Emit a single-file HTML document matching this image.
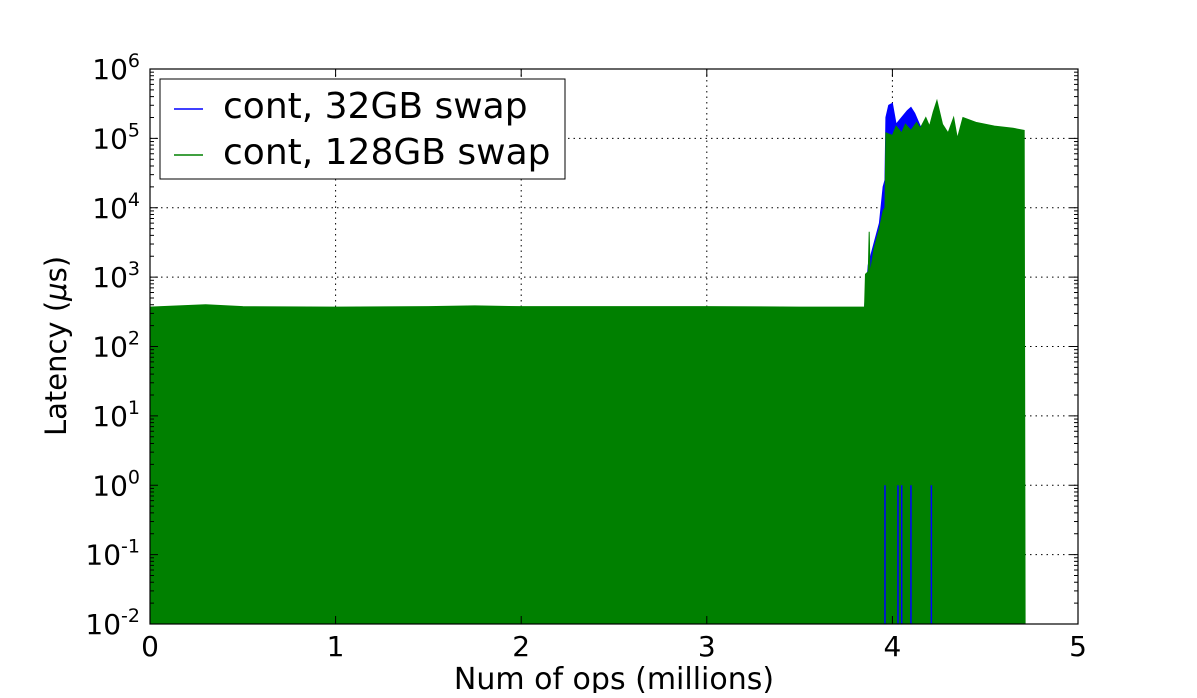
<!DOCTYPE html>
<html><head><meta charset="utf-8"><style>
body{margin:0;background:#fff;}
svg text{font-family:"DejaVu Sans","Liberation Sans",sans-serif;fill:#000;}
</style></head><body>
<svg width="1197" height="693" viewBox="0 0 1197 693">
<g id="grid"></g>
<g id="marks"></g>
<rect x="150" y="69" width="928" height="555" fill="none" stroke="#000" stroke-width="1.2"/>
<g id="axes"></g>
<text x="614" y="689" font-size="30" text-anchor="middle">Num of ops (millions)</text>
<text transform="translate(66,346) rotate(-90)" font-size="29" text-anchor="middle">Latency (<tspan font-style="italic">μ</tspan>s)</text>
<g>
<rect x="160" y="79" width="405" height="100" fill="#fff" stroke="#000" stroke-width="1"/>
<line x1="174" y1="109" x2="203" y2="109" stroke="#0000ff" stroke-width="1.5"/>
<text x="223" y="118" font-size="36">cont, 32GB swap</text>
<line x1="174" y1="155" x2="203" y2="155" stroke="#008000" stroke-width="1.5"/>
<text x="223" y="164" font-size="36">cont, 128GB swap</text>
</g>
</svg>
<script>
const xTicks=[0,1,2,3,4,5];
const yExps=[-2,-1,0,1,2,3,4,5,6];
const greenX=[0,0.3,0.5,1,1.5,1.75,2,2.5,3,3.5,3.85,3.855,3.87,3.875,3.88,3.9,3.92,3.93,3.95,3.96,3.965,4.0,4.02,4.05,4.07,4.1,4.13,4.15,4.18,4.2,4.22,4.24,4.27,4.3,4.33,4.35,4.38,4.45,4.55,4.65,4.71,4.715];
const greenY=[370,400,375,370,375,385,375,375,375,370,370,1100,1200,4500,1100,2500,4000,5000,9000,10000,120000,110000,150000,120000,160000,130000,170000,140000,200000,150000,240000,350000,160000,120000,200000,100000,200000,170000,150000,140000,130000,0.01];
const blueX=[3.85,3.87,3.9,3.93,3.95,3.96,3.965,3.98,4.0,4.02,4.05,4.08,4.1,4.12,4.15,4.2,4.715];
const blueY=[370,1500,3000,6000,20000,25000,200000,300000,320000,160000,200000,250000,280000,230000,150000,120000,0.01];
const blueDips=[3.96,4.03,4.05,4.1,4.21];
const X0=150,X1=1078,Y0=624,Y1=69;
const xs=v=>X0+(v-0)/(5-0)*(X1-X0);
const ys=v=>Y0-(Math.log10(v)+2)/8*(Y0-Y1);
const NS="http://www.w3.org/2000/svg";
function mk(t,a,p){const e=document.createElementNS(NS,t);for(const k in a)e.setAttribute(k,a[k]);p.appendChild(e);return e;}
const grid=document.getElementById('grid'),marks=document.getElementById('marks'),axes=document.getElementById('axes');
xTicks.forEach(t=>{const x=xs(t);
 if(t>0&&t<5){const l=mk('line',{x1:x,x2:x,y1:Y1,y2:Y0,stroke:'#000','stroke-dasharray':'1.5,4','stroke-width':1},grid);
 
 }
 const tx=mk('text',{x:x,y:656,'font-size':28,'text-anchor':'middle'},axes);tx.textContent=t;
 
 
 mk('line',{x1:x,x2:x,y1:Y0,y2:Y0-8,stroke:'#000'},axes);mk('line',{x1:x,x2:x,y1:Y1,y2:Y1+8,stroke:'#000'},axes);
});
yExps.forEach(e=>{const y=ys(Math.pow(10,e));
 if(e>-2&&e<6){const l=mk('line',{x1:X0,x2:X1,y1:y,y2:y,stroke:'#000','stroke-dasharray':'1.5,4','stroke-width':1},grid);
 
 }
 const tx=mk('text',{x:140,y:y+10,'font-size':28,'text-anchor':'end'},axes);
 
 
 tx.innerHTML='10<tspan dy="-12" font-size="19">'+e+'</tspan>';
 mk('line',{x1:X0,x2:X0+8,y1:y,y2:y,stroke:'#000'},axes);mk('line',{x1:X1,x2:X1-8,y1:y,y2:y,stroke:'#000'},axes);
 if(e<6)for(let m=2;m<10;m++){const ym=ys(m*Math.pow(10,e));mk('line',{x1:X0,x2:X0+4,y1:ym,y2:ym,stroke:'#000'},axes);mk('line',{x1:X1,x2:X1-4,y1:ym,y2:ym,stroke:'#000'},axes);}
});
function area(X,Y,col,name){let d='M'+xs(X[0])+','+Y0;X.forEach((x,i)=>{d+=' L'+xs(x)+','+ys(Y[i]);});d+=' L'+xs(X[X.length-1])+','+Y0+' Z';
 const p=mk('path',{d:d,fill:col,stroke:col,'stroke-width':1},marks);
 
 }
area(blueX,blueY,'#0000ff','series-32gb');
area(greenX,greenY,'#008000','series-128gb');
blueDips.forEach(x=>{const l=mk('line',{x1:xs(x),x2:xs(x),y1:ys(1),y2:Y0,stroke:'#0000ff','stroke-width':1.5},marks);
 
 });
</script>
</body></html>
